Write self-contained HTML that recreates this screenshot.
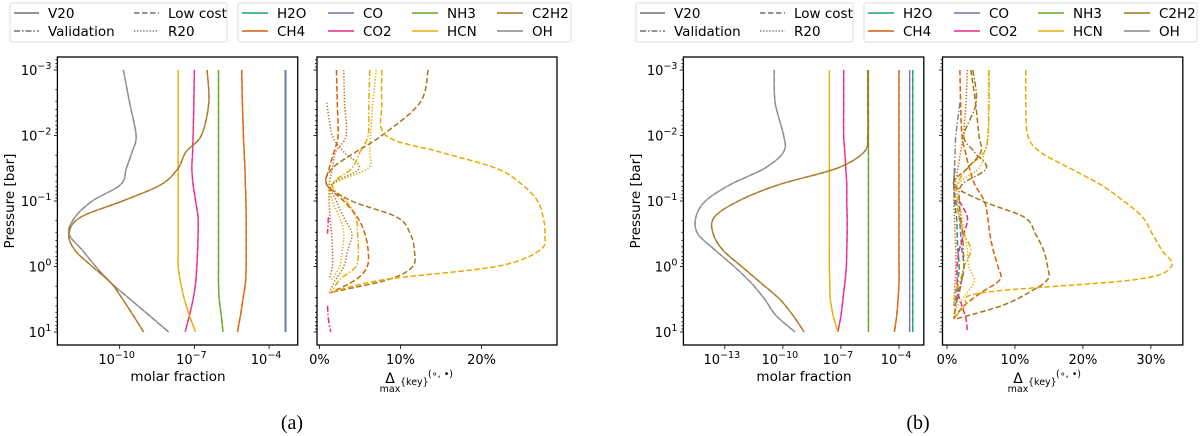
<!DOCTYPE html>
<html><head><meta charset="utf-8">
<style>
html,body{margin:0;padding:0;background:#fff;}
svg{display:block;font-family:"DejaVu Sans","Liberation Sans",sans-serif;}
</style></head>
<body>
<svg id="fig" width="1200" height="436" viewBox="0 0 1200 436" xmlns="http://www.w3.org/2000/svg"></svg>
<script>
// ---------- DATA ----------
const speciesNames = ["H2O","CH4","CO","CO2","NH3","HCN","C2H2","OH"];
const speciesColors = ["#1b9e77","#d95f02","#7570b3","#e7298a","#66a61e","#e6ab02","#a6761d","#888888"];
const pLevelsLeft = [-3,-2.5,-2,-1.75,-1.5,-1.25,-1,-0.75,-0.5,-0.25,0,0.25,0.5,0.75,1];
const pLevelsRight = [-3,-2.5,-2,-1.75,-1.5,-1.25,-1,-0.75,-0.5,-0.25,0,0.2,0.4,0.6,0.8,1];
const yTickLabels = ["10^-3","10^-2","10^-1","10^0","10^1"];
const yTickValues = [-3,-2,-1,0,1];

// (a) left: log10 molar fraction
const aOH   = [-9.85,-9.6,-9.34,-9.5,-9.73,-9.96,-11.1,-11.8,-12.04,-11.5,-10.96,-10.35,-9.58,-8.8,-8.03];
const aC2H2 = [-6.49,-6.42,-6.72,-7.34,-7.65,-8.34,-9.88,-11.58,-12.04,-11.8,-11.1,-10.35,-9.88,-9.45,-9.04];
const aHCN  = [-7.65,-7.65,-7.65,-7.65,-7.65,-7.65,-7.65,-7.65,-7.65,-7.65,-7.65,-7.55,-7.4,-7.2,-6.95];
const aCO2  = [-7.0,-7.02,-7.05,-7.07,-7.1,-7.05,-6.95,-6.85,-6.85,-6.87,-6.9,-6.95,-7.05,-7.2,-7.37];
const aNH3  = [-6.03,-6.03,-6.03,-6.03,-6.03,-6.03,-6.03,-6.03,-6.03,-6.03,-6.03,-6.03,-6.0,-5.92,-5.85];
const aCH4  = [-5.1,-5.07,-5.03,-5.0,-4.97,-4.95,-4.93,-4.92,-4.92,-4.92,-4.92,-4.95,-5.05,-5.15,-5.27];
const aCO   = [-3.35,-3.35,-3.35,-3.35,-3.35,-3.35,-3.35,-3.35,-3.35,-3.35,-3.35,-3.35,-3.35,-3.35,-3.35];
const aH2O  = [-3.33,-3.33,-3.33,-3.33,-3.33,-3.33,-3.33,-3.33,-3.33,-3.33,-3.33,-3.33,-3.33,-3.33,-3.33];
const aXTicks = [-10,-7,-4];

// (a) right: percent differences
const aHCNdash  = [7.7,7.7,8.2,14.8,21.8,25,26.9,27.6,27.8,27.2,21.8,8,1.2,null,null,null];
const aC2H2dash = [13.4,12.4,7.7,4.5,1.6,0.9,4,9.6,11.2,11.7,11.5,8.5,1.2,null,null,null];
const aCH4dash  = [2.1,2.2,2.3,1.8,1.2,0.9,3,4.7,5.6,6,5.9,4.5,1.4,null,null,null];
const aHCNdd    = [6.2,6.1,6,5,4,1.6,3.3,4.5,4.7,4.8,4.5,2.5,1.5,null,null,null];
const aC2H2dot  = [null,0.9,1.6,3,4.9,1.5,2.1,3,4,3.5,3,2,1.2,null,null,null];
const aCH4dot   = [3,3.1,3.3,2,1.6,1.2,1.2,1.3,1.5,1.6,1.6,1.2,null,null,null,null];
const aHCNdot   = [7,6.6,6.3,6.2,6,1.6,1.6,2.5,3,2.8,2.5,1.5,null,null,null,null];
const aCO2dd    = [null,null,null,null,null,null,null,1.1,1.0,null,null,null,null,1.0,1.1,1.4];
const aPctTicks = [0,10,20];

// (b) left
const bOH   = [-10.45,-10.4,-9.96,-9.96,-10.94,-12.72,-14.0,-14.5,-14.4,-13.5,-12.52,-11.64,-10.94,-10.35,-9.37];
const bC2H2 = [-5.62,-5.62,-5.62,-5.8,-7.2,-10.2,-12.3,-13.55,-13.6,-13.1,-12.13,-11.14,-10.16,-9.47,-8.9];
const bHCN  = [-7.6,-7.6,-7.6,-7.6,-7.6,-7.6,-7.6,-7.6,-7.6,-7.6,-7.6,-7.58,-7.55,-7.4,-7.16];
const bCO2  = [-6.86,-6.86,-6.86,-6.8,-6.75,-6.7,-6.7,-6.68,-6.68,-6.7,-6.72,-6.8,-6.9,-7.0,-7.16];
const bNH3  = [-5.58,-5.58,-5.58,-5.58,-5.58,-5.58,-5.58,-5.58,-5.58,-5.58,-5.58,-5.58,-5.58,-5.58,-5.58];
const bCH4  = [-4.0,-4.0,-4.0,-4.0,-4.0,-4.0,-4.0,-4.0,-4.0,-4.0,-4.0,-4.0,-4.05,-4.12,-4.24];
const bCO   = [-3.45,-3.45,-3.45,-3.45,-3.45,-3.45,-3.45,-3.45,-3.45,-3.45,-3.45,-3.45,-3.45,-3.45,-3.45];
const bH2O  = [-3.29,-3.29,-3.29,-3.29,-3.29,-3.29,-3.29,-3.29,-3.29,-3.29,-3.29,-3.29,-3.29,-3.29,-3.29];
const bXTicks = [-13,-10,-7,-4];

// (b) right
const bHCNdash  = [11.6,11.6,11.9,13.7,18.1,22.6,26,28.8,30.2,31.6,33,27.7,5.2,2.7,1,null];
const bC2H2dash = [3.5,4.2,4.7,5,3,1,5.2,11.4,13,14.2,14.8,14.8,12,8,1.3,null];
const bCH4dash  = [1.9,2,2.2,2.7,3.3,4.1,5.5,6,6.3,6.8,7.5,7.8,5,2.5,1,null];
const bCO2dash  = [null,null,null,null,null,null,1.8,3,2.5,1.8,1.5,1.5,1.6,2.2,2.8,3];
const bHCNdot   = [6.1,6.1,6.1,5.5,4.7,1.5,1.8,2.2,2.6,3,3.2,4,3,1.5,1,null];
const bC2H2dd   = [3.8,4.3,2.5,4,5.8,2.2,1.8,2,2.3,2.4,2.5,2.2,1.8,1.3,1,null];
const bCH4dot   = [3,2.8,2.4,2,1.6,1.2,1,1.1,1.2,1.3,1.3,1.2,1.1,1,null,null];
const bOHdd     = [null,1.9,1.3,1.2,1.1,1,null,null,null,null,null,null,null,null,null,null];
const bCOdash   = [null,null,null,null,1.2,1,1.3,1.8,2,2.2,2.5,2.2,1.6,1.2,null,null];
const bH2Odash  = [null,null,null,null,1.1,1,1.1,1.4,1.5,1.6,1.8,1.6,1.3,1.1,null,null];
const bHCNdd    = [6.2,6.2,6,5.5,3,1.5,1.5,1.8,2.5,3.5,2.5,2,1.3,1,null,null];
const bPctTicks = [0,10,20,30];

// ---------- DRAWING ----------
const NS = "http://www.w3.org/2000/svg";
const svg = document.getElementById("fig");
function mk(tag, attrs, parent){
  const e = document.createElementNS(NS, tag);
  for (const k in attrs) e.setAttribute(k, attrs[k]);
  (parent||svg).appendChild(e);
  return e;
}
const DASH = {solid:"", dash:"5.5,2.5", dd:"6,2,1.5,2", dot:"1.3,1.8"};
const yOf = p => 70 + (p + 3) * 65.5;

function panel(name, x0, x1, xmin, xmax){
  const g = mk("g", {});
  
  
  const xs = v => x0 + (v - xmin) / (xmax - xmin) * (x1 - x0);
  return {g, xs, x0, x1};
}
function frame(pn, labelsY){
  const r = mk("rect", {x:pn.x0, y:57, width:pn.x1-pn.x0, height:288, fill:"none", stroke:"#000", "stroke-width":1.3}, pn.g);
  
  
  for (let d=-4; d<=1; d++){
    for (let k=1; k<=9; k++){
      const lp = d + Math.log10(k);
      if (lp < -3.2 || lp > 1.2) continue;
      const y = yOf(lp);
      const len = k===1 ? 3.5 : 2;
      mk("line", {x1:pn.x0-len, x2:pn.x0, y1:y, y2:y, stroke:"#000", "stroke-width":0.8}, pn.g);
    }
  }
  if (labelsY){
    yTickValues.forEach((v,i)=>{
      const lab = yTickLabels[i].split("^");
      const t = mk("text", {x:pn.x0-6, y:yOf(v)+5, "text-anchor":"end", "font-size":13, fill:"#000"}, pn.g);
      
      
      t.appendChild(document.createTextNode(lab[0]));
      const s = mk("tspan", {dy:-6, "font-size":9.5}, t);
      s.textContent = lab[1].replace("-", "\u2212");
    });
  }
}
function xTicksLog(pn, ticks){
  ticks.forEach(v=>{
    const x = pn.xs(v);
    mk("line", {x1:x, x2:x, y1:345, y2:349, stroke:"#000", "stroke-width":0.8}, pn.g);
    const t = mk("text", {x:x-3, y:364, "text-anchor":"middle", "font-size":13}, pn.g);
    
    
    t.appendChild(document.createTextNode("10"));
    const s = mk("tspan", {dy:-6, "font-size":9.5}, t);
    s.textContent = "\u2212" + Math.abs(v);
  });
}
function xTicksPct(pn, ticks){
  ticks.forEach(v=>{
    const x = pn.xs(v);
    mk("line", {x1:x, x2:x, y1:345, y2:349, stroke:"#000", "stroke-width":0.8}, pn.g);
    const t = mk("text", {x:x, y:364, "text-anchor":"middle", "font-size":13}, pn.g);
    
    
    t.textContent = v + "%";
  });
}
function smoothPath(pts){
  if (pts.length < 2) return "";
  let d = "M" + pts[0][0].toFixed(2) + "," + pts[0][1].toFixed(2);
  for (let i=0; i<pts.length-1; i++){
    const p0 = pts[Math.max(i-1,0)], p1 = pts[i], p2 = pts[i+1], p3 = pts[Math.min(i+2, pts.length-1)];
    const c1x = p1[0] + (p2[0]-p0[0])/6, c1y = p1[1] + (p2[1]-p0[1])/6;
    const c2x = p2[0] - (p3[0]-p1[0])/6, c2y = p2[1] - (p3[1]-p1[1])/6;
    d += "C" + c1x.toFixed(2) + "," + c1y.toFixed(2) + " " + c2x.toFixed(2) + "," + c2y.toFixed(2) + " " + p2[0].toFixed(2) + "," + p2[1].toFixed(2);
  }
  return d;
}
function series(pn, levels, vals, sp, style, width, opacity, name){
  let d = "", seg = [];
  vals.forEach((v,i)=>{
    if (v === null){ d += smoothPath(seg); seg = []; return; }
    seg.push([pn.xs(v), yOf(levels[i])]);
  });
  d += smoothPath(seg);
  const p = mk("path", {d, fill:"none", stroke:speciesColors[speciesNames.indexOf(sp)], "stroke-width":width||1.5, "stroke-dasharray":DASH[style], opacity:opacity||1, "stroke-linejoin":"round"}, pn.g);
  
  
}
function leftLines(pn, arr){
  arr.forEach(([sp, vals])=>{
    series(pn, pLevelsLeft, vals, sp, "solid", 1.5, 0.85, "line-" + sp.toLowerCase());
    series(pn, pLevelsLeft, vals, sp, "dash", 1.2, 0.9, "line-" + sp.toLowerCase() + "-lowcost");
  });
}
function axisLabels(px, xLeft, xCenterL, xCenterR){
  const t1 = mk("text", {x:xCenterL, y:381, "text-anchor":"middle", "font-size":13.5});
  
  
  t1.textContent = "molar fraction";
  const t2 = mk("text", {x:0, y:0, "text-anchor":"middle", "font-size":13.5, transform:`translate(${xLeft},201) rotate(-90)`});
  
  
  t2.textContent = "Pressure [bar]";
  const g = mk("g", {});
  
  
  const a = mk("text", {x:xCenterR-12, y:383, "font-size":14, "text-anchor":"middle"}, g); a.textContent = "\u0394";
  const b = mk("text", {x:xCenterR-12, y:392, "font-size":9.5, "text-anchor":"middle"}, g); b.textContent = "max";
  const c = mk("text", {x:xCenterR-2, y:385, "font-size":9.5}, g); c.textContent = "{key}";
  const e = mk("text", {x:xCenterR+26, y:377, "font-size":9.5}, g); e.textContent = "(\u2218, \u2022)";
}
function legends(ox1, ox2, style1Cols, spCols){
  const b1 = mk("rect", {x:ox1[0], y:3, width:ox1[1]-ox1[0], height:39, rx:2, fill:"#fff", stroke:"#ddd", "stroke-width":1});
  
  
  const styles = [["V20","solid"],["Validation","dd"],["Low cost","dash"],["R20","dot"]];
  styles.forEach(([lab, st], i)=>{
    const col = style1Cols[Math.floor(i/2)];
    const y = i%2 ? 31 : 13;
    mk("line", {x1:col, x2:col+25, y1:y, y2:y, stroke:"#555", "stroke-width":1.2, "stroke-dasharray":DASH[st]});
    const t = mk("text", {x:col+34, y:y+5, "font-size":13.5});
    
    
    t.textContent = lab;
  });
  const b2 = mk("rect", {x:ox2[0], y:3, width:ox2[1]-ox2[0], height:39, rx:2, fill:"#fff", stroke:"#ddd", "stroke-width":1});
  
  
  speciesNames.forEach((sp, i)=>{
    const col = spCols[Math.floor(i/2)];
    const y = i%2 ? 31 : 13;
    mk("line", {x1:col, x2:col+26, y1:y, y2:y, stroke:speciesColors[i], "stroke-width":1.5});
    const t = mk("text", {x:col+35, y:y+5, "font-size":13.5});
    
    
    t.textContent = sp;
  });
}
function caption(x, txt, name){
  const t = mk("text", {x, y:429, "text-anchor":"middle", "font-size":20, "font-family":"Liberation Serif, serif"});
  
  
  t.textContent = txt;
}

// ----- Figure (a) -----
legends([10,227],[238,571],[14,134],[242,328,412,497]);
const aL = panel("panel-a-molar-fraction", 57.4, 297.7, -12.5, -2.85);
frame(aL, true); xTicksLog(aL, aXTicks);
leftLines(aL, [["H2O",aH2O],["CO",aCO],["CH4",aCH4],["NH3",aNH3],["CO2",aCO2],["HCN",aHCN],["OH",aOH],["C2H2",aC2H2]]);
const aR = panel("panel-a-delta", 317, 557, -0.3, 29.3);
frame(aR, false); xTicksPct(aR, aPctTicks);
series(aR, pLevelsRight, aCO2dd, "CO2", "dd", 1.5, 1, "delta-co2-validation");
series(aR, pLevelsRight, aCH4dot, "CH4", "dot", 1.5, 1, "delta-ch4-r20");
series(aR, pLevelsRight, aHCNdot, "HCN", "dot", 1.5, 1, "delta-hcn-r20");
series(aR, pLevelsRight, aC2H2dot, "C2H2", "dot", 1.5, 1, "delta-c2h2-r20");
series(aR, pLevelsRight, aHCNdd, "HCN", "dd", 1.5, 1, "delta-hcn-validation");
series(aR, pLevelsRight, aCH4dash, "CH4", "dash", 1.5, 1, "delta-ch4-lowcost");
series(aR, pLevelsRight, aC2H2dash, "C2H2", "dash", 1.5, 1, "delta-c2h2-lowcost");
series(aR, pLevelsRight, aHCNdash, "HCN", "dash", 1.5, 1, "delta-hcn-lowcost");
axisLabels("a", 14, 178, 402);
caption(292, "(a)", "caption-a");

// ----- Figure (b) -----
legends([636,853],[864,1197],[640,760],[868,954,1038,1124]);
const bL = panel("panel-b-molar-fraction", 683.4, 923.8, -15.14, -2.72);
frame(bL, true); xTicksLog(bL, bXTicks);
leftLines(bL, [["H2O",bH2O],["CO",bCO],["CH4",bCH4],["NH3",bNH3],["CO2",bCO2],["HCN",bHCN],["OH",bOH],["C2H2",bC2H2]]);
const bR = panel("panel-b-delta", 942.5, 1182.8, -0.66, 34.7);
frame(bR, false); xTicksPct(bR, bPctTicks);
series(bR, pLevelsRight, bOHdd, "OH", "dd", 1.5, 1, "delta-oh-validation");
series(bR, pLevelsRight, bH2Odash, "H2O", "dash", 1.5, 1, "delta-h2o-lowcost");
series(bR, pLevelsRight, bCOdash, "CO", "dash", 1.5, 1, "delta-co-lowcost");
series(bR, pLevelsRight, bCO2dash, "CO2", "dash", 1.5, 1, "delta-co2-lowcost");
series(bR, pLevelsRight, bCH4dot, "CH4", "dot", 1.5, 1, "delta-ch4-r20");
series(bR, pLevelsRight, bHCNdot, "HCN", "dot", 1.5, 1, "delta-hcn-r20");
series(bR, pLevelsRight, bHCNdd, "HCN", "dd", 1.5, 1, "delta-hcn-validation");
series(bR, pLevelsRight, bC2H2dd, "C2H2", "dd", 1.5, 1, "delta-c2h2-validation");
series(bR, pLevelsRight, bCH4dash, "CH4", "dash", 1.5, 1, "delta-ch4-lowcost");
series(bR, pLevelsRight, bC2H2dash, "C2H2", "dash", 1.5, 1, "delta-c2h2-lowcost");
series(bR, pLevelsRight, bHCNdash, "HCN", "dash", 1.5, 1, "delta-hcn-lowcost");
axisLabels("b", 640, 804, 1030);
caption(918, "(b)", "caption-b");
</script>
</body></html>
